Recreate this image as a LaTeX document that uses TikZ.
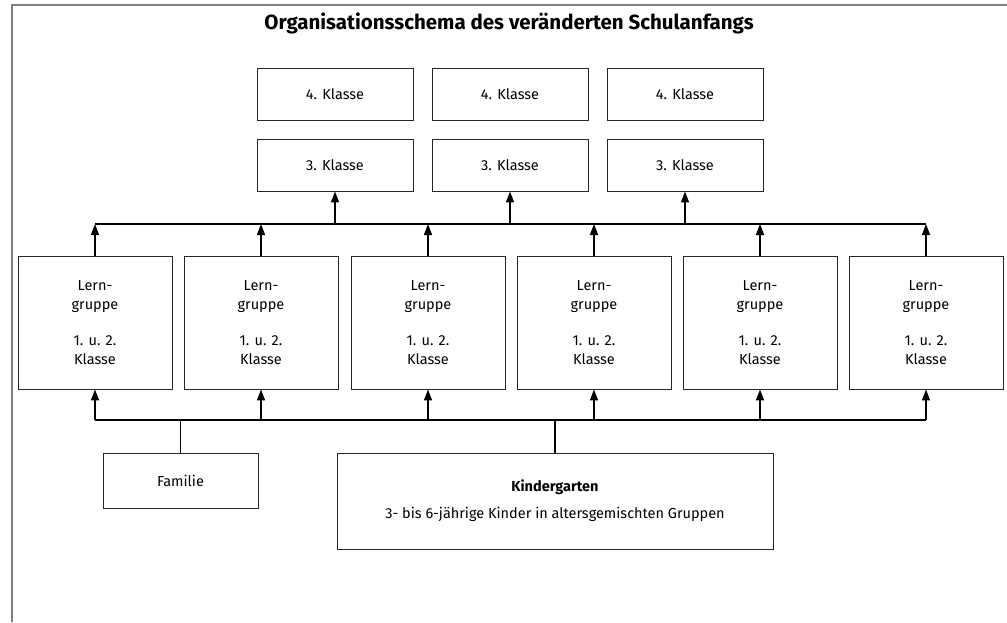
\documentclass[tikz,border=0pt]{standalone}
\usepackage{fontspec}
\setmainfont{Fira Sans}
\usetikzlibrary{arrows.meta}

\begin{document}
\begin{tikzpicture}[x=1pt,y=-1pt,
    kasten/.style={draw=black!85,line width=0.9pt,inner sep=0pt,align=center,
      font=\fontsize{14.5}{19}\selectfont},
    klasse/.style={kasten,minimum width=156pt,minimum height=52pt},
    lerngr/.style={kasten,minimum width=154pt,minimum height=133pt},
    schiene/.style={line width=1.6pt},
    pfeil/.style={schiene,-{Triangle[length=11pt,width=8pt]}}]
  \useasboundingbox (0,0) rectangle (1007,622);

  % --- 1. Rahmen und Titel ---
  \draw[gray,line width=1.4pt] (12,622) -- (12,5) -- (1007,5);
  \node[font=\fontsize{20.5}{24}\selectfont\bfseries] (titel) at (509,23)
    {Organisationsschema des veränderten Schulanfangs};

  % --- 2. 3. und 4. Klassen ---
  \foreach \i/\x in {a/335,b/510,c/685}{
    \node[klasse] (k4\i) at (\x,94) {4. Klasse};
    \node[klasse] (k3\i) at (\x,165) {3. Klasse};
  }

  % --- 3. Lerngruppen ---
  \foreach \i/\x in {1/95,2/261,3/428,4/594,5/760,6/926}{
    \node[lerngr] (lg\i) at (\x,322.5) {Lern-\\gruppe\\[17pt]1. u. 2.\\Klasse};
  }

  % --- 4. Familie und Kindergarten ---
  \node[kasten,minimum width=155pt,minimum height=55pt] (fam) at (180.5,480.5) {Familie};
  \node[kasten,minimum width=436pt,minimum height=96pt] (kiga) at (555,501)
    {\textbf{Kindergarten}\\[8pt]3- bis 6-jährige Kinder in altersgemischten Gruppen};

  % --- 5. Schienen ---
  \coordinate (oben) at (0,224);
  \coordinate (unten) at (0,420);
  \draw[schiene] (lg1.north |- oben) -- (lg6.north |- oben);
  \draw[schiene] (lg1.south |- unten) -- (lg6.south |- unten);

  % --- 6. Pfeile ---
  \foreach \i in {1,...,6}{
    \draw[pfeil] (lg\i.north) -- (lg\i.north |- oben);
    \draw[pfeil] (lg\i.south |- unten) -- (lg\i.south);
  }
  \foreach \i in {a,b,c}
    \draw[pfeil] (k3\i.south |- oben) -- (k3\i.south);
  \draw[schiene] (fam.north) -- (fam.north |- unten);
  \draw[schiene] (kiga.north) -- (kiga.north |- unten);

\end{tikzpicture}
\end{document}
